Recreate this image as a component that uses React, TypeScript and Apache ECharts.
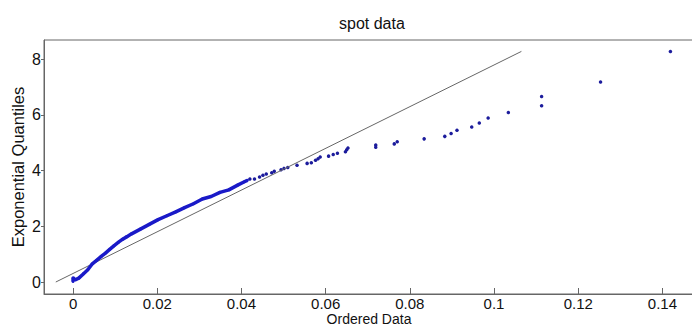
import React, { useEffect, useRef } from "react";
import * as echarts from "echarts";

const xTicks = [0, 0.02, 0.04, 0.06, 0.08, 0.1, 0.12, 0.14];
const yTicks = [0, 2, 4, 6, 8];

// dense lower part of the ordered data (read along the thick band)
const denseX = [0, 0, 0.0005, 0.00136, 0.0025, 0.0035, 0.0045, 0.0056, 0.0067, 0.0077, 0.0087, 0.0097, 0.0108, 0.0118, 0.0128, 0.0139, 0.016, 0.0181, 0.0202, 0.0223, 0.0244, 0.0265, 0.0286, 0.0307, 0.0328, 0.0349, 0.037, 0.0391, 0.0407, 0.0414];
const denseY = [0.02, 0.15, 0.08, 0.14, 0.3, 0.44, 0.64, 0.78, 0.92, 1.04, 1.17, 1.3, 1.43, 1.54, 1.63, 1.73, 1.9, 2.07, 2.24, 2.38, 2.52, 2.67, 2.81, 2.98, 3.07, 3.22, 3.31, 3.48, 3.6, 3.65];

// sparse upper tail
const tailX = [0.042, 0.0431, 0.0443, 0.0451, 0.0459, 0.0472, 0.0478, 0.0494, 0.0501, 0.051, 0.0532, 0.0556, 0.0566, 0.0576, 0.0582, 0.0587, 0.0607, 0.0618, 0.0628, 0.0647, 0.065, 0.0653, 0.0719, 0.0719, 0.0763, 0.077, 0.0834, 0.0883, 0.0898, 0.0912, 0.0947, 0.0965, 0.0986, 0.1034, 0.1113, 0.1113, 0.1253, 0.1419];
const tailY = [3.7, 3.7, 3.77, 3.83, 3.88, 3.92, 3.98, 4.03, 4.08, 4.11, 4.19, 4.26, 4.28, 4.37, 4.43, 4.49, 4.52, 4.58, 4.62, 4.68, 4.75, 4.81, 4.84, 4.92, 4.96, 5.04, 5.14, 5.23, 5.33, 5.45, 5.57, 5.71, 5.89, 6.09, 6.33, 6.66, 7.18, 8.28];

// reference line end points
const refX = [-0.0041, 0.1065];
const refY = [0, 8.28];

const FONT = "Liberation Sans, Arial, sans-serif";

export default function App() {
  const ref = useRef<HTMLDivElement>(null);
  useEffect(() => {
    document.body.style.margin = "0";
    const chart = echarts.init(ref.current!, null, { renderer: "svg" });
    const zip = (xs: number[], ys: number[]) => xs.map((x, i) => [x, ys[i]]);
    chart.setOption({
      animation: false,
      backgroundColor: "#fff",
      title: {
        text: "spot data",
        left: 339,
        top: 15,
        padding: 0,
        textStyle: { fontFamily: FONT, fontSize: 16, fontWeight: "normal", color: "#111" },
      },
      grid: {
        left: 44,
        right: -2,
        top: 40,
        bottom: 33,
        containLabel: false,
        outerBoundsMode: "none",
        show: true,
        borderColor: "#666",
        borderWidth: 1,
        backgroundColor: "transparent",
      },
      xAxis: {
        type: "value",
        min: -0.0069,
        max: 0.1475,
        name: "Ordered Data",
        nameLocation: "middle",
        nameGap: 18,
        nameMoveOverlap: false,
        nameTextStyle: { fontFamily: FONT, fontSize: 14, color: "#111", lineHeight: 14 },
        splitLine: { show: false },
        axisLine: { show: true, onZero: false, lineStyle: { color: "#666" } },
        axisTick: { show: true, inside: true, length: 6, customValues: xTicks, lineStyle: { color: "#666" } },
        axisLabel: {
          customValues: xTicks,
          margin: 2,
          fontFamily: FONT,
          fontSize: 15,
          lineHeight: 15,
          color: "#111",
          formatter: (v: number) => String(Number(v.toFixed(4))),
        },
      },
      yAxis: {
        type: "value",
        min: -0.43,
        max: 8.69,
        name: "Exponential Quantiles",
        nameLocation: "middle",
        nameGap: 18,
        nameMoveOverlap: false,
        nameTextStyle: { fontFamily: FONT, fontSize: 16.5, color: "#111" },
        splitLine: { show: false },
        axisLine: { show: true, onZero: false, lineStyle: { color: "#666" } },
        axisTick: { show: true, inside: false, length: 3, customValues: yTicks, lineStyle: { color: "#666" } },
        axisLabel: {
          customValues: yTicks,
          margin: 3,
          fontFamily: FONT,
          fontSize: 16,
          color: "#111",
        },
      },
      series: [
        {
          type: "line",
          data: zip(refX, refY),
          symbol: "none",
          lineStyle: { color: "#666", width: 1 },
          silent: true,
        },
        {
          type: "line",
          data: zip(denseX, denseY),
          symbol: "circle",
          symbolSize: 3,
          itemStyle: { color: "#1a1ac8" },
          lineStyle: { color: "#1a1ac8", width: 3.5 },
          smooth: false,
        },
        {
          type: "scatter",
          data: zip(tailX, tailY),
          symbol: "circle",
          symbolSize: 3.5,
          itemStyle: { color: "#1c1c9c", opacity: 1 },
        },
      ],
    });
    return () => chart.dispose();
  }, []);
  return <div ref={ref} style={{ position: "absolute", left: 0, top: 0, width: 692, height: 327 }} />;
}
